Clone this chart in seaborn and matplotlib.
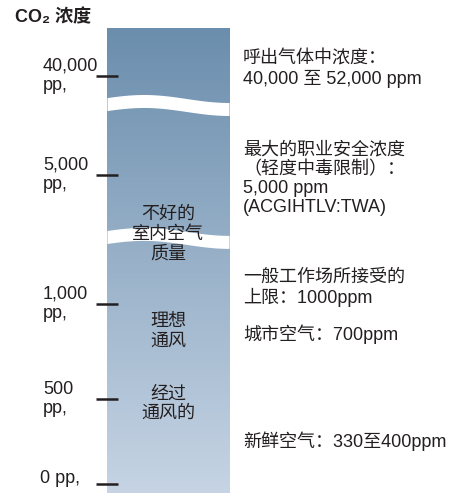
"""CO2 concentration scale chart."""
import numpy as np
import matplotlib
matplotlib.use("Agg")
import matplotlib.pyplot as plt
import matplotlib.transforms as mtransforms
import seaborn as sns

# --- data -------------------------------------------------------------
tick_ppm = [0, 500, 1000, 5000, 40000]
tick_labels = ["0 pp,", "500\npp,", "1,000\npp,", "5,000\npp,", "40,000\npp,"]

notes = [
    "呼出气体中浓度：\n40,000 至 52,000 ppm",
    "最大的职业安全浓度\n（轻度中毒限制）：\n5,000 ppm\n(ACGIHTLV:TWA)",
    "一般工作场所接受的\n上限：1000ppm",
    "城市空气：700ppm",
    "新鲜空气：330至400ppm",
]
note_ppm = [42500, 4880, 1500, 840, 253]

zones = ["不好的\n室内空气\n质量", "理想\n通风", "经过\n通风的"]
zone_ppm = [3170, 858, 471]

break_ppm = [29750, 3050]

# broken axis: ppm -> position (pixels from bar bottom), piecewise linear
anchor_ppm = [-53, 0, 500, 1000, 5000, 40000, 57000]
anchor_pos = [0, 9, 94, 189, 318, 417, 465]

TXT = "#231f20"
FONTS = ["Liberation Sans", "Noto Sans CJK SC"]

sns.set_theme(style="white")
plt.rcParams["font.family"] = FONTS


def fwd(v):
    return np.interp(v, anchor_ppm, anchor_pos)


def inv(p):
    return np.interp(p, anchor_pos, anchor_ppm)


W, H = 461, 493
fig = plt.figure(figsize=(W / 100, H / 100), dpi=100)
ax = fig.add_axes([107 / W, 0, 122 / W, 465 / H])
ax.set_yscale("function", functions=(fwd, inv))
ax.set_ylim(anchor_ppm[0], anchor_ppm[-1])
ax.set_xlim(0, 1)
for s in ax.spines.values():
    s.set_visible(False)

# gradient column
cmap = sns.blend_palette(["#c6d4e4", "#6b8ead"], as_cmap=True)
grad = np.linspace(0, 1, 256).reshape(-1, 1)
ax.imshow(grad, cmap=cmap, extent=[0, 1, 0, 1], transform=ax.transAxes,
          aspect="auto", origin="lower", zorder=0)

# white wavy breaks
t = np.linspace(0, 1, 200)
for b in break_ppm:
    mid = fwd(b) + 4 * np.cos(2 * np.pi * (t - 0.3) / 1.4)
    ax.fill_between(t, inv(mid - 6.5), inv(mid + 6.5), color="white",
                    lw=0, zorder=1)

# ticks
ax.set_xticks([])
ax.set_yticks(tick_ppm)
ax.set_yticklabels([])
ax.tick_params(axis="y", direction="inout", length=16.5, width=1.8,
               color=TXT, left=True)

lab_tr = mtransforms.blended_transform_factory(fig.transFigure, ax.transData)
for v, lab in zip(tick_ppm, tick_labels):
    if "\n" in lab:
        ax.text(43 / W, v, lab, transform=lab_tr, ha="left", va="center",
                fontsize=13, color=TXT, linespacing=1.2)
    else:
        ax.text(40 / W, inv(fwd(v) - 3), lab, transform=lab_tr, ha="left",
                va="bottom", fontsize=13, color=TXT)

for v, lab in zip(note_ppm, notes):
    ax.text(243 / W, v, lab, transform=lab_tr, ha="left", va="center",
            fontsize=13, color=TXT, linespacing=1.15)

for v, lab in zip(zone_ppm, zones):
    ax.text(0.5, v, lab, ha="center", va="center", fontsize=13,
            color=TXT, linespacing=1.2, zorder=3)

fig.text(15 / W, 1 - 9 / H, "CO₂ 浓度", ha="left", va="top",
         fontsize=13, fontweight="bold", color=TXT,
         family=["Liberation Sans", "DejaVu Sans", "Noto Sans CJK SC"])

fig.savefig("out.png", dpi=100)
